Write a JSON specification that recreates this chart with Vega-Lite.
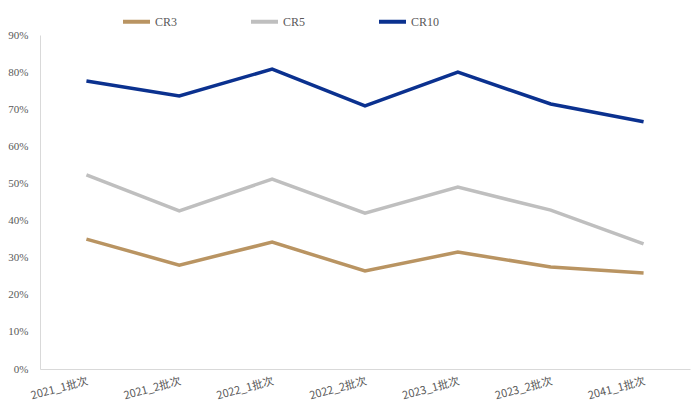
{
  "$schema": "https://vega.github.io/schema/vega-lite/v6.json",
  "width": 650,
  "height": 334,
  "autosize": {"type": "none"},
  "padding": {"left": 40, "top": 35, "right": 1, "bottom": 40},
  "background": "white",
  "config": {"view": {"stroke": null}, "font": "Liberation Serif"},
  "data": {
    "values": [
      {"batch": "2021_1批次", "series": "CR3", "v": 0.350},
      {"batch": "2021_2批次", "series": "CR3", "v": 0.280},
      {"batch": "2022_1批次", "series": "CR3", "v": 0.342},
      {"batch": "2022_2批次", "series": "CR3", "v": 0.264},
      {"batch": "2023_1批次", "series": "CR3", "v": 0.315},
      {"batch": "2023_2批次", "series": "CR3", "v": 0.275},
      {"batch": "2041_1批次", "series": "CR3", "v": 0.259},
      {"batch": "2021_1批次", "series": "CR5", "v": 0.523},
      {"batch": "2021_2批次", "series": "CR5", "v": 0.426},
      {"batch": "2022_1批次", "series": "CR5", "v": 0.512},
      {"batch": "2022_2批次", "series": "CR5", "v": 0.420},
      {"batch": "2023_1批次", "series": "CR5", "v": 0.490},
      {"batch": "2023_2批次", "series": "CR5", "v": 0.428},
      {"batch": "2041_1批次", "series": "CR5", "v": 0.337},
      {"batch": "2021_1批次", "series": "CR10", "v": 0.776},
      {"batch": "2021_2批次", "series": "CR10", "v": 0.736},
      {"batch": "2022_1批次", "series": "CR10", "v": 0.808},
      {"batch": "2022_2批次", "series": "CR10", "v": 0.709},
      {"batch": "2023_1批次", "series": "CR10", "v": 0.800},
      {"batch": "2023_2批次", "series": "CR10", "v": 0.714},
      {"batch": "2041_1批次", "series": "CR10", "v": 0.666}
    ]
  },
  "mark": {"type": "line", "strokeWidth": 3.5, "strokeJoin": "miter"},
  "encoding": {
    "x": {
      "field": "batch", "type": "ordinal", "sort": null,
      "scale": {"type": "band", "paddingInner": 0, "paddingOuter": 0},
      "axis": {
        "title": null, "labelAngle": -15, "labelAlign": "right", "labelBaseline": "top",
        "labelFontSize": 11, "labelColor": "#595959", "labelFont": "Noto Sans CJK SC",
        "ticks": false, "domainColor": "#D9D9D9", "labelPadding": 6, "grid": false
      }
    },
    "y": {
      "field": "v", "type": "quantitative",
      "scale": {"domain": [0, 0.9]},
      "axis": {
        "title": null, "format": ".0%", "values": [0, 0.1, 0.2, 0.3, 0.4, 0.5, 0.6, 0.7, 0.8, 0.9],
        "ticks": false, "grid": false, "domainColor": "#D9D9D9",
        "labelColor": "#595959", "labelFontSize": 11, "labelPadding": 12
      }
    },
    "color": {
      "field": "series", "type": "nominal",
      "sort": ["CR3", "CR5", "CR10"],
      "scale": {"domain": ["CR3", "CR5", "CR10"], "range": ["#B99462", "#BFBFBF", "#0B318F"]},
      "legend": {
        "title": null, "orient": "none", "direction": "horizontal",
        "legendX": 81, "legendY": -29,
        "symbolType": "stroke", "symbolSize": 729, "symbolStrokeWidth": 4,
        "gridAlign": "all", "columnPadding": 59, "labelOffset": 3,
        "labelFontSize": 12, "labelColor": "#595959"
      }
    }
  }
}
